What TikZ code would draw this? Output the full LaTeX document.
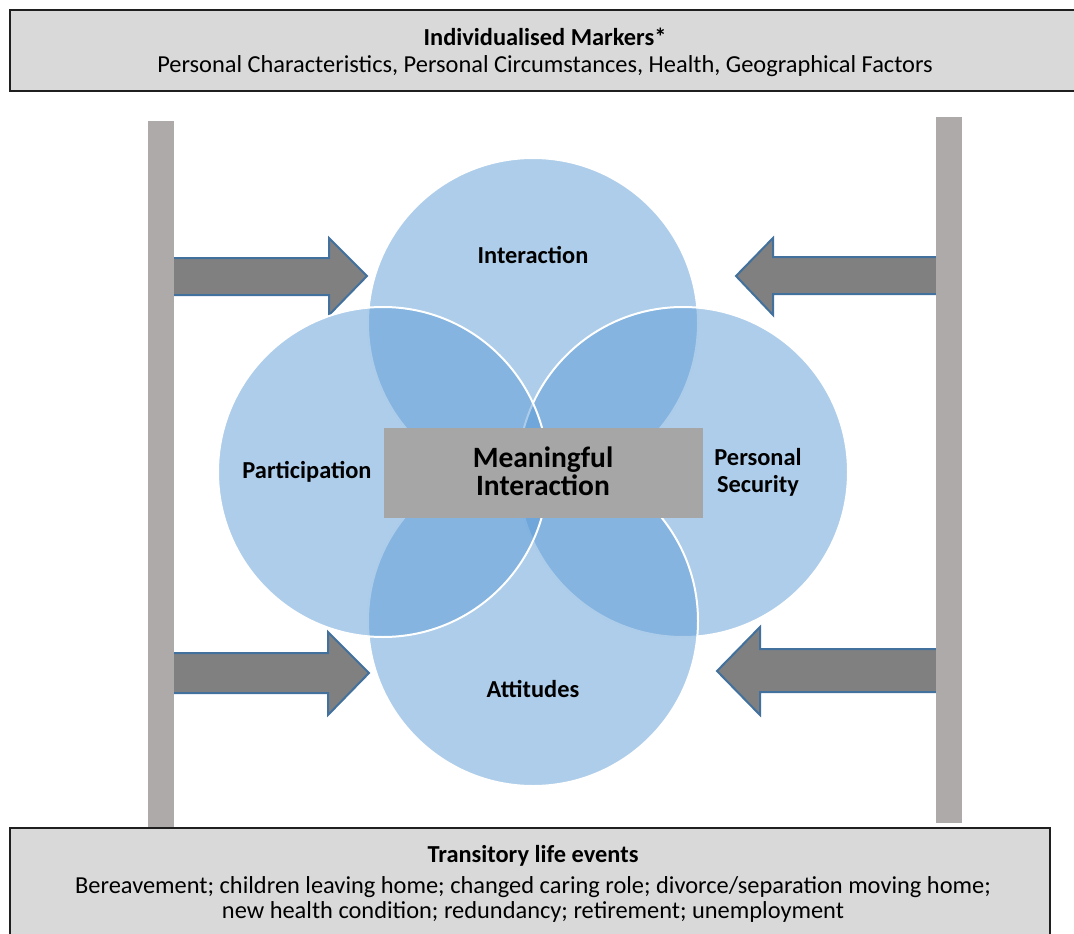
\documentclass[tikz,border=0pt]{standalone}
\usepackage{fontspec}
\setmainfont{Carlito}
\definecolor{boxgray}{RGB}{217,217,217}
\definecolor{bargray}{RGB}{174,170,170}
\definecolor{arrowgray}{RGB}{128,128,128}
\definecolor{arrowblue}{RGB}{65,113,156}
\definecolor{vennblue}{RGB}{91,155,213}
\definecolor{centergray}{RGB}{166,166,166}
\begin{document}
\begin{tikzpicture}[x=1pt,y=-1pt,
  infobox/.style={draw=black!88, line width=2.4pt, fill=boxgray},
  sidebar/.style={fill=bargray, draw=none},
  blockarrow/.style={fill=arrowgray, draw=arrowblue, line width=2pt, line join=miter},
  venn/.style={circle, minimum size=330pt, inner sep=0pt, fill=vennblue, fill opacity=0.5, draw=white, draw opacity=1, line width=2pt},
  lbl/.style={font=\bfseries\fontsize{24.4}{27}\selectfont, align=center, inner sep=0pt},
  boxtitle/.style={font=\bfseries\fontsize{24.4}{28}\selectfont, inner sep=0pt},
  boxtext/.style={font=\fontsize{24.4}{28}\selectfont, inner sep=0pt}]
\useasboundingbox (0,0) rectangle (1074,934);

% top box
\path[infobox] (10,10) rectangle (1085,91);
\node[boxtitle] (mtitle) at (545,37) {Individualised Markers*};
\node[boxtext] (mtext) at (545,66) {Personal Characteristics, Personal Circumstances, Health, Geographical Factors};

% arrows
\path[blockarrow] (160,258) -- (329,258) -- (329,238) -- (367,276) -- (329,315) -- (329,295) -- (160,295) -- cycle;
\path[blockarrow] (950,257) -- (773,257) -- (773,238) -- (736,276) -- (773,315) -- (773,294) -- (950,294) -- cycle;
\path[blockarrow] (160,653) -- (328,653) -- (328,632) -- (369,673) -- (328,715) -- (328,693) -- (160,693) -- cycle;
\path[blockarrow] (950,649) -- (760,649) -- (760,627) -- (717,671) -- (760,715) -- (760,692) -- (950,692) -- cycle;

% side bars
\path[sidebar] (148,121) rectangle (174,828);
\path[sidebar] (936,117) rectangle (962,823);

% venn circles
\node[venn] (inter) at (533,323) {};
\node[venn] (secur) at (683,472) {};
\node[venn] (att) at (533,621) {};
\node[venn] (part) at (383,472) {};

% centre
\path[fill=centergray] (384,428) rectangle (703,518);
\node[font=\bfseries\fontsize{29.5}{28}\selectfont, align=center, inner sep=0pt] (mi) at (543,471) {Meaningful\\Interaction};

\node[lbl] (linter) at (533,255) {Interaction};
\node[lbl] (lpart) at (307,472) {Participation};
\node[lbl] (lsecur) at (758,472) {Personal\\Security};
\node[lbl] (latt) at (533,689) {Attitudes};

% bottom box
\path[infobox] (10,828) rectangle (1050,945);
\node[boxtitle] (ttitle) at (533,856) {Transitory life events};
\node[boxtext] (ttext1) at (533,887) {Bereavement; children leaving home; changed caring role; divorce/separation moving home;};
\node[boxtext] (ttext2) at (533,912) {new health condition; redundancy; retirement; unemployment};
\end{tikzpicture}
\end{document}
